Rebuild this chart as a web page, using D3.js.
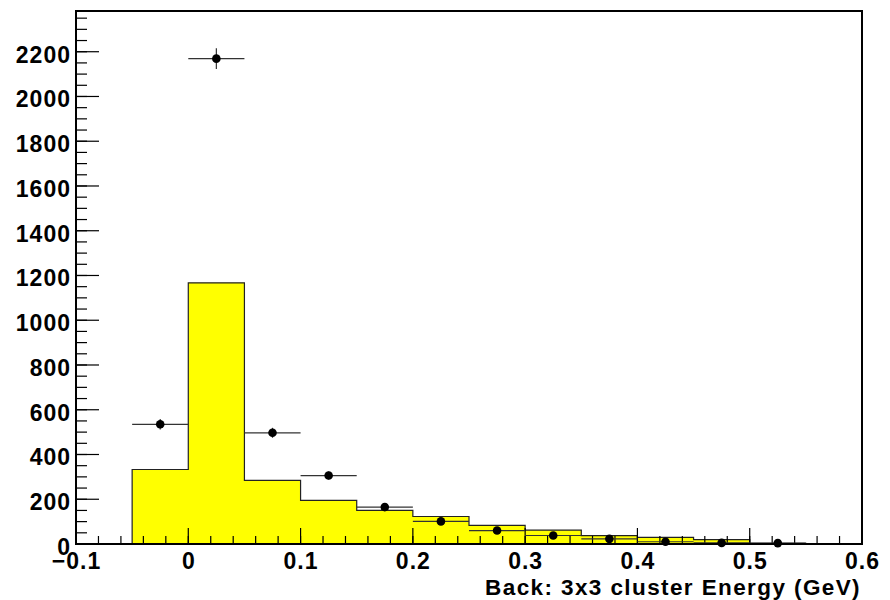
<!DOCTYPE html>
<html>
<head>
<meta charset="utf-8">
<script src="https://cdn.jsdelivr.net/npm/d3@7"></script>
<style>
  body { margin: 0; background: #fff; }
  svg text { font-family: "Liberation Sans", Arial, Helvetica, sans-serif; font-weight: bold; }
</style>
</head>
<body>
<div id="chart"></div>
<script>
// histogram bins (lower edges, width 0.05) and contents
let binEdges = [-0.05, 0, 0.05, 0.1, 0.15, 0.2, 0.25, 0.3, 0.35, 0.4, 0.45, 0.5, 0.55];
let histValues = [333, 1167, 284, 195, 150, 123, 83, 62, 37, 30, 20, 3, 2];
// data points (bin centers) and counts
let pointX = [-0.025, 0.025, 0.075, 0.125, 0.175, 0.225, 0.275, 0.325, 0.375, 0.425, 0.475, 0.525];
let pointY = [535, 2169, 497, 306, 165, 101, 60, 38, 23, 10, 5, 4];
let binWidth = 0.05;
let xTickValues = [-0.1, 0, 0.1, 0.2, 0.3, 0.4, 0.5, 0.6];
let yTickValues = [0, 200, 400, 600, 800, 1000, 1200, 1400, 1600, 1800, 2000, 2200];
let xTitle = "Back: 3x3 cluster Energy (GeV)";

let width = 890, height = 600;
let margin = {left: 76, right: 28, top: 11, bottom: 56};
let innerW = width - margin.left - margin.right;
let innerH = height - margin.top - margin.bottom;

let svg = d3.select("#chart").append("svg")
    .attr("width", width)
    .attr("height", height);

let g = svg.append("g")
    .attr("transform", "translate(" + margin.left + "," + margin.top + ")");

let xScale = d3.scaleLinear().domain([-0.1, 0.6]).range([0, innerW]);
let yScale = d3.scaleLinear().domain([0, 2382]).range([innerH, 0]);

//Histogram fill and outline
let histData = binEdges.map((x0, i) => ({x0: x0, x1: x0 + binWidth, y: histValues[i]}));
let outline = [];
histData.forEach((d, i) => {
    if (i === 0) outline.push([xScale(d.x0), yScale(0)]);
    outline.push([xScale(d.x0), yScale(d.y)]);
    outline.push([xScale(d.x1), yScale(d.y)]);
});
outline.push([xScale(histData[histData.length - 1].x1), yScale(0)]);

g.append("path")
    .attr("d", d3.line()(outline) + "Z")
    .attr("fill", "#ffff00")
    .attr("stroke", "none");
g.append("path")
    .attr("d", d3.line()(outline))
    .attr("fill", "none")
    .attr("stroke", "#222")
    .attr("stroke-width", 1.2);

//Axes ticks
let xMinor = d3.range(-0.1, 0.6001, 0.02);
g.selectAll(".xminor").data(xMinor).enter().append("line")
    .attr("x1", d => xScale(d)).attr("x2", d => xScale(d))
    .attr("y1", innerH).attr("y2", innerH - 8)
    .attr("stroke", "#000").attr("stroke-width", 1.2);
g.selectAll(".xmajor").data(xTickValues).enter().append("line")
    .attr("x1", d => xScale(d)).attr("x2", d => xScale(d))
    .attr("y1", innerH).attr("y2", innerH - 16)
    .attr("stroke", "#000").attr("stroke-width", 1.2);

let yMinor = d3.range(0, 2382, 50);
g.selectAll(".yminor").data(yMinor).enter().append("line")
    .attr("x1", 0).attr("x2", 11)
    .attr("y1", d => yScale(d)).attr("y2", d => yScale(d))
    .attr("stroke", "#000").attr("stroke-width", 1.2);
g.selectAll(".ymajor").data(yTickValues).enter().append("line")
    .attr("x1", 0).attr("x2", 23)
    .attr("y1", d => yScale(d)).attr("y2", d => yScale(d))
    .attr("stroke", "#000").attr("stroke-width", 1.2);

//Error bars and markers
let pts = pointX.map((x, i) => ({x: x, y: pointY[i]}));
g.selectAll(".ex").data(pts).enter().append("line")
    .attr("x1", d => xScale(d.x - binWidth / 2)).attr("x2", d => xScale(d.x + binWidth / 2))
    .attr("y1", d => yScale(d.y)).attr("y2", d => yScale(d.y))
    .attr("stroke", "#333").attr("stroke-width", 1.2);
g.selectAll(".ey").data(pts).enter().append("line")
    .attr("x1", d => xScale(d.x)).attr("x2", d => xScale(d.x))
    .attr("y1", d => yScale(d.y + Math.sqrt(d.y))).attr("y2", d => yScale(Math.max(0, d.y - Math.sqrt(d.y))))
    .attr("stroke", "#333").attr("stroke-width", 1.2);
g.selectAll(".dot").data(pts).enter().append("circle")
    .attr("cx", d => xScale(d.x)).attr("cy", d => yScale(d.y))
    .attr("r", 4.3).attr("fill", "#000");

//Frame
g.append("rect")
    .attr("x", 0).attr("y", 0)
    .attr("width", innerW).attr("height", innerH)
    .attr("fill", "none").attr("stroke", "#000").attr("stroke-width", 2);

//Labels
g.selectAll(".xlab").data(xTickValues).enter().append("text")
    .attr("x", d => xScale(d) + 0.5)
    .attr("y", innerH + 25)
    .attr("text-anchor", "middle")
    .attr("font-size", 23)
    .attr("letter-spacing", 1)
    .text(d => d === 0 ? "0" : d3.format(".1f")(d));
g.selectAll(".ylab").data(yTickValues).enter().append("text")
    .attr("x", -5)
    .attr("y", d => yScale(d) + 11)
    .attr("text-anchor", "end")
    .attr("font-size", 23)
    .attr("letter-spacing", 1)
    .text(d => d);

svg.append("text")
    .attr("x", 861)
    .attr("y", 595)
    .attr("text-anchor", "end")
    .attr("font-size", 22.5)
    .attr("letter-spacing", 1.4)
    .text(xTitle);
</script>
</body>
</html>
